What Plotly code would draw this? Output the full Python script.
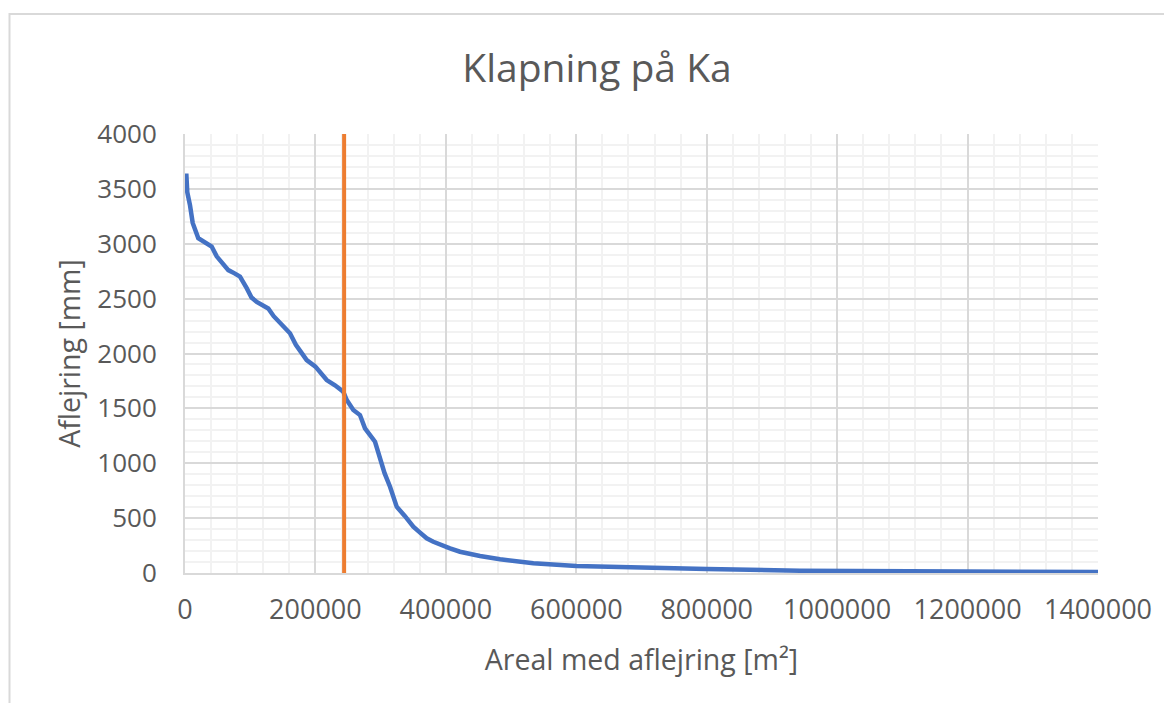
import plotly.graph_objects as go

# Data
areal = [2000, 3500, 7700, 11800, 20400, 30000, 40900, 48600, 57000, 66400, 76000, 84300,
         94600, 102000, 110000, 120000, 127700, 136000, 145700, 153000, 161000, 170000,
         178000, 186600, 200000, 217300, 230000, 242700, 248000, 258100, 268300, 276000,
         291400, 299000, 306000, 314400, 324600, 337000, 350100, 360000, 370600, 380800,
         396100, 406400, 421700, 432000, 452400, 483100, 510000, 534200, 600000, 687400,
         800000, 943000, 1100000, 1250000, 1400000]
aflejring = [3640, 3470, 3350, 3190, 3050, 3020, 2975, 2885, 2830, 2760, 2730, 2700,
             2595, 2510, 2470, 2440, 2410, 2340, 2275, 2230, 2184, 2080,
             2020, 1940, 1880, 1758, 1710, 1652, 1576, 1485, 1439, 1318,
             1196, 1029, 910, 786, 604, 520, 422, 370, 316, 285,
             255, 225, 194, 179, 155, 125, 103, 88, 64, 48,
             36, 21, 14, 11, 9]
graense_x = [244000, 244000]
graense_y = [0, 4000]

x_ticks = [0, 200000, 400000, 600000, 800000, 1000000, 1200000, 1400000]
y_ticks = [0, 500, 1000, 1500, 2000, 2500, 3000, 3500, 4000]

FONT = "Open Sans"
TXT = "#595959"

fig = go.Figure()
fig.add_trace(go.Scatter(x=areal, y=aflejring, mode="lines",
                         line=dict(color="#4472C4", width=4.5), showlegend=False))
fig.add_trace(go.Scatter(x=graense_x, y=graense_y, mode="lines",
                         line=dict(color="#ED7D31", width=4), showlegend=False))

OFF = 8  # page body margin
W, H = 1172 - 2 * OFF, 711 - 2 * OFF
L, R, T, B = 185 - OFF, 1098 - OFF, 134 - OFF, 573 - OFF
fig.update_layout(
    width=W, height=H,
    margin=dict(l=L, r=W - R, t=T, b=H - B, pad=0, autoexpand=False),
    paper_bgcolor="white", plot_bgcolor="white",
    font=dict(family=FONT, color=TXT),
    title=dict(text="Klapning på Ka", x=(597 - OFF) / W, xref="container", xanchor="center",
               y=1 - (68 - OFF) / H, yref="container", yanchor="middle",
               font=dict(size=39, color=TXT, family=FONT)),
    xaxis=dict(range=[0, 1400000], tickvals=x_ticks, ticktext=[str(v) for v in x_ticks],
               tickfont=dict(size=27, color=TXT, family=FONT), ticks="", ticklabelstandoff=12,
               automargin=False,
               showgrid=True, gridcolor="#D9D9D9", gridwidth=2,
               minor=dict(dtick=40000, tick0=0, showgrid=True, gridcolor="#F2F2F2", gridwidth=2),
               showline=True, linecolor="#D9D9D9", linewidth=2, zeroline=False,
               title=dict(text="Areal med aflejring [m²]", font=dict(size=28.5, color=TXT, family=FONT),
                          standoff=24)),
    yaxis=dict(range=[0, 4000], tickvals=y_ticks, ticktext=[str(v) for v in y_ticks],
               tickfont=dict(size=26, color=TXT, family=FONT), ticks="", ticklabelstandoff=21,
               automargin=False,
               showgrid=True, gridcolor="#D9D9D9", gridwidth=2,
               minor=dict(dtick=100, tick0=0, showgrid=True, gridcolor="#F2F2F2", gridwidth=2),
               showline=True, linecolor="#D9D9D9", linewidth=2, zeroline=False,
               title=dict(text="Aflejring [mm]", font=dict(size=28.5, color=TXT, family=FONT),
                          standoff=8)),
)

# chart area border (right and bottom edges lie outside the picture)
fig.add_shape(type="rect", xref="paper", yref="paper",
              x0=(9.5 - 185) / (R - L), x1=(1200 - 185) / (R - L),
              y0=(573 - 740) / (B - T), y1=(573 - 14) / (B - T),
              line=dict(color="#D9D9D9", width=2), fillcolor="rgba(0,0,0,0)", layer="below")

fig.write_html("out.html")
